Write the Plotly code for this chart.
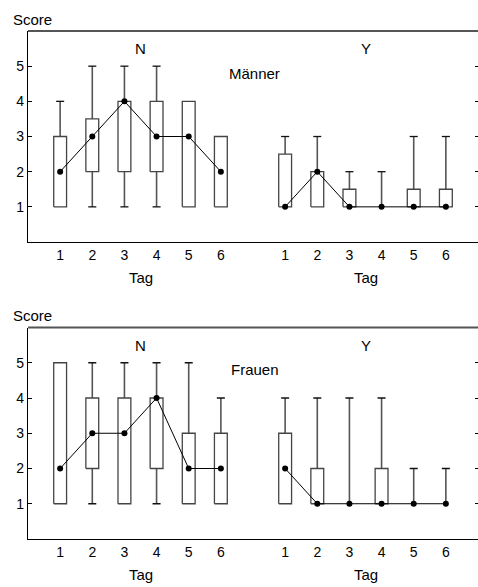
import plotly.graph_objects as go

days = [1, 2, 3, 4, 5, 6]
groups = ["N", "Y"]
group_offset = {"N": 0, "Y": 7}

# Männer
m_N_q1 = [1, 2, 2, 2, 1, 1]
m_N_q3 = [3, 3.5, 4, 4, 4, 3]
m_N_lo = [1, 1, 1, 1, 1, 1]
m_N_hi = [4, 5, 5, 5, 4, 3]
m_N_med = [2, 3, 4, 3, 3, 2]

m_Y_q1 = [1, 1, 1, 1, 1, 1]
m_Y_q3 = [2.5, 2, 1.5, 1, 1.5, 1.5]
m_Y_lo = [1, 1, 1, 1, 1, 1]
m_Y_hi = [3, 3, 2, 2, 3, 3]
m_Y_med = [1, 2, 1, 1, 1, 1]

# Frauen
f_N_q1 = [1, 2, 1, 2, 1, 1]
f_N_q3 = [5, 4, 4, 4, 3, 3]
f_N_lo = [1, 1, 1, 1, 1, 1]
f_N_hi = [5, 5, 5, 5, 5, 4]
f_N_med = [2, 3, 3, 4, 2, 2]

f_Y_q1 = [1, 1, 1, 1, 1, 1]
f_Y_q3 = [3, 2, 1, 2, 1, 1]
f_Y_lo = [1, 1, 1, 1, 1, 1]
f_Y_hi = [4, 4, 4, 4, 2, 2]
f_Y_med = [2, 1, 1, 1, 1, 1]

y_ticks = [1, 2, 3, 4, 5]
panel_titles = ["Männer", "Frauen"]

panels = [
    {"N": (m_N_q1, m_N_q3, m_N_lo, m_N_hi, m_N_med),
     "Y": (m_Y_q1, m_Y_q3, m_Y_lo, m_Y_hi, m_Y_med)},
    {"N": (f_N_q1, f_N_q3, f_N_lo, f_N_hi, f_N_med),
     "Y": (f_Y_q1, f_Y_q3, f_Y_lo, f_Y_hi, f_Y_med)},
]

BOX_HW = 0.2
CAP_HW = 0.125
FONT = "Arial, Liberation Sans, sans-serif"
TXT = 15
TICK = 14

fig = go.Figure()

for pi, panel in enumerate(panels):
    xa = "x" if pi == 0 else "x2"
    ya = "y" if pi == 0 else "y2"
    for g in groups:
        q1, q3, lo, hi, med = panel[g]
        pos = [d + group_offset[g] for d in days]
        bx, by, wx, wy, cx, cy = [], [], [], [], [], []
        for p, a, b, l, h in zip(pos, q1, q3, lo, hi):
            if b > a:
                bx += [p - BOX_HW, p + BOX_HW, p + BOX_HW, p - BOX_HW, p - BOX_HW, None]
                by += [a, a, b, b, a, None]
            if h > b:
                wx += [p, p, None]
                wy += [b, h, None]
                cx += [p - CAP_HW, p + CAP_HW, None]
                cy += [h, h, None]
            if l < a:
                wx += [p, p, None]
                wy += [l, a, None]
                cx += [p - CAP_HW, p + CAP_HW, None]
                cy += [l, l, None]
        fig.add_trace(go.Scatter(x=wx, y=wy, mode="lines", xaxis=xa, yaxis=ya,
                                 line=dict(color="#555555", width=1.6),
                                 hoverinfo="skip", showlegend=False))
        fig.add_trace(go.Scatter(x=cx, y=cy, mode="lines", xaxis=xa, yaxis=ya,
                                 line=dict(color="#111111", width=1.3),
                                 hoverinfo="skip", showlegend=False))
        fig.add_trace(go.Scatter(x=bx, y=by, mode="lines", xaxis=xa, yaxis=ya,
                                 line=dict(color="#444444", width=1.3),
                                 hoverinfo="skip", showlegend=False))
        fig.add_trace(go.Scatter(x=pos, y=med, mode="lines+markers", xaxis=xa, yaxis=ya,
                                 line=dict(color="#000000", width=1),
                                 marker=dict(color="#000000", size=6),
                                 hoverinfo="skip", showlegend=False))
    # dummy trace for right-side tick axis
    fig.add_trace(go.Scatter(x=[None], y=[None], xaxis=xa,
                             yaxis="y3" if pi == 0 else "y4",
                             showlegend=False, hoverinfo="skip"))

xtickvals = [d + group_offset[g] for g in groups for d in days]
xticktext = [str(d) for g in groups for d in days]

top_dom = [0.5846, 1.0]
bot_dom = [0.0, 0.4163]

common_x = dict(range=[0, 14], tickvals=xtickvals, ticktext=xticktext,
                showline=True, linecolor="#000000", linewidth=1.3,
                ticks="", showgrid=False, zeroline=False,
                tickfont=dict(family=FONT, size=TICK, color="#000"),
                fixedrange=True)
common_y = dict(range=[0, 6], tickvals=y_ticks,
                showline=True, linecolor="#000000", linewidth=1.3,
                ticks="inside", ticklen=4, tickcolor="#000", tickwidth=1,
                showgrid=False, zeroline=False,
                tickfont=dict(family=FONT, size=TICK, color="#000"),
                fixedrange=True)
right_y = dict(range=[0, 6], tickvals=y_ticks, side="right",
               showline=False, ticks="inside", ticklen=3, tickcolor="#000",
               showticklabels=False, showgrid=False, zeroline=False,
               fixedrange=True)

fig.update_layout(
    width=478, height=587,
    margin=dict(l=28, r=0, t=31, b=48),
    paper_bgcolor="white", plot_bgcolor="white",
    font=dict(family=FONT, size=TXT, color="#000"),
    xaxis=dict(domain=[0, 1], anchor="y", **common_x),
    yaxis=dict(domain=top_dom, anchor="x", **common_y),
    xaxis2=dict(domain=[0, 1], anchor="y2", **common_x),
    yaxis2=dict(domain=bot_dom, anchor="x2", **common_y),
    yaxis3=dict(overlaying="y", anchor="x", **right_y),
    yaxis4=dict(overlaying="y2", anchor="x2", **right_y),
)

annotations = []
shapes = []
for pi in range(2):
    xr = "x" if pi == 0 else "x2"
    yr = "y" if pi == 0 else "y2"
    annotations += [
        dict(text="Score", xref="paper", yref=yr + " domain", x=0, y=1,
             xanchor="left", yanchor="middle", xshift=-17, yshift=12,
             showarrow=False, font=dict(size=TXT)),
        dict(text="N", xref=xr, yref=yr, x=3.5, y=5.5, showarrow=False,
             font=dict(size=TXT)),
        dict(text="Y", xref=xr, yref=yr, x=10.5, y=5.5, showarrow=False,
             font=dict(size=TXT)),
        dict(text=panel_titles[pi], xref=xr, yref=yr, x=7.05, y=4.8,
             showarrow=False, font=dict(size=TXT)),
        dict(text="Tag", xref=xr, yref=yr + " domain", x=3.5, y=0,
             yanchor="middle", yshift=-35, showarrow=False, font=dict(size=TXT)),
        dict(text="Tag", xref=xr, yref=yr + " domain", x=10.5, y=0,
             yanchor="middle", yshift=-35, showarrow=False, font=dict(size=TXT)),
    ]
    shapes.append(dict(type="line", xref="x domain" if pi == 0 else "x2 domain",
                       yref=yr + " domain", x0=0, x1=1, y0=1, y1=1,
                       line=dict(color="#555555", width=1.8)))

fig.update_layout(annotations=annotations, shapes=shapes)

fig.write_html("out.html")
